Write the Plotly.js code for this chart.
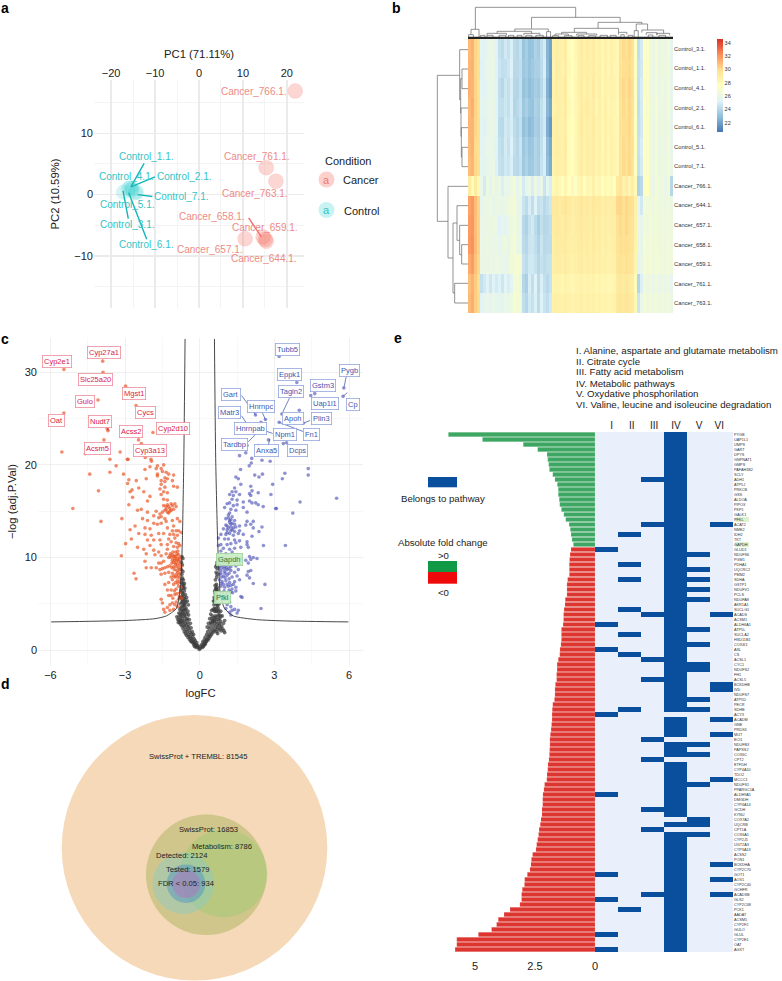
<!DOCTYPE html>
<html>
<head>
<meta charset="utf-8">
<script src="https://cdn.plot.ly/plotly-3.0.1.min.js"></script>
<style>
  html, body { margin: 0; padding: 0; background: #fff; }
  #chart { width: 782px; height: 981px; }
</style>
</head>
<body>
<div id="chart"></div>
<script>
// Panel a: PCA scores
const cancerNames = ['Cancer_766.1.', 'Cancer_761.1.', 'Cancer_763.1.', 'Cancer_658.1.', 'Cancer_659.1.', 'Cancer_657.1.', 'Cancer_644.1.'];
const cancerPC1 = [21.9, 15.3, 17.5, 14.6, 15.1, 10.5, 15.3];
const cancerPC2 = [16.9, 4.4, 2.2, -6.9, -7.3, -7.2, -7.6];
const controlNames = ['Control_1.1.', 'Control_2.1.', 'Control_3.1.', 'Control_4.1.', 'Control_5.1.', 'Control_6.1.', 'Control_7.1.'];
const controlPC1 = [-15.7, -15.3, -17.2, -16.1, -15.3, -14.5, -14.2];
const controlPC2 = [1.1, 1.0, 0.4, 1.0, 0.7, 0.3, 0.4];
// label connector lines [x0, y0, x1, y1] in PC units
const controlLinks = [[-15.5, 1.25, -12.5, 5.1], [-15.5, 1.25, -10, 2.9], [-14, 0, -10.6, -0.3], [-17.3, 0.6, -16.1, -3.9], [-16, 0.3, -11.9, -7.3]];
const cancerLinks = [[11.3, -3.8, 14.2, -6.9]];

// Panel b: expression heatmap, one row per sample
const heatRowNames = ['Control_3.1.', 'Control_1.1.', 'Control_4.1.', 'Control_2.1.', 'Control_6.1.', 'Control_5.1.', 'Control_7.1.',
  'Cancer_766.1.', 'Cancer_644.1.', 'Cancer_657.1.', 'Cancer_658.1.', 'Cancer_659.1.', 'Cancer_761.1.', 'Cancer_763.1.'];
const control3 = [31.0,31.2,30.2,29.8,25.5,25.3,25.8,26.0,25.9,25.3,24.4,24.2,24.8,24.5,25.1,24.2,24.0,24.5,23.2,23.6,23.0,23.2,23.8,23.5,24.3,24.9,22.6,22.0,28.5,28.9,28.7,28.5,29.0,27.9,27.5,28.1,28.6,29.0,28.5,28.9,28.6,29.0,28.3,28.7,28.1,28.6,28.2,28.5,28.3,28.1,29.6,30.0,29.8,30.1,29.7,27.5,24.3,24.9,27.6,27.1,26.4,26.1,26.7,26.0,26.3,26.1,26.6,25.7];
const control1 = [31.1,31.2,30.1,29.9,25.3,25.4,25.9,25.9,26.0,25.2,24.6,24.3,24.4,24.7,25.2,24.1,24.1,24.3,23.3,23.5,23.1,23.4,23.7,23.7,24.2,25.0,22.7,21.9,28.4,28.9,28.8,28.4,28.9,28.0,27.6,28.0,28.6,28.9,28.6,28.8,28.7,28.9,28.4,28.7,28.0,28.6,28.1,28.6,28.2,28.2,29.5,29.9,29.9,30.0,29.6,27.6,24.5,24.8,27.6,27.2,26.5,26.0,26.7,26.1,26.2,26.2,26.5,25.8];
const control4 = [31.2,31.1,30.2,29.7,25.4,25.3,25.7,26.1,25.8,25.4,24.3,24.0,24.7,24.4,25.0,24.0,23.9,24.4,23.1,23.4,22.9,23.2,23.6,23.4,24.1,24.8,22.5,21.8,28.5,29.0,28.7,28.6,29.1,27.8,27.5,28.2,28.7,29.0,28.4,28.9,28.5,29.1,28.3,28.8,28.2,28.5,28.3,28.5,28.4,28.1,29.7,30.1,29.8,30.2,29.8,27.4,24.4,25.0,27.7,27.1,26.3,26.1,26.6,25.9,26.4,26.0,26.7,25.7];
const control2 = [31.0,31.3,30.3,29.8,25.6,25.4,25.8,25.9,26.0,25.3,24.4,24.3,24.7,24.4,25.1,23.9,24.1,24.5,23.3,23.7,23.2,23.1,23.8,23.6,24.4,24.9,22.7,22.1,28.4,28.8,28.8,28.5,29.0,28.0,27.4,28.1,28.5,29.0,28.6,29.0,28.6,28.9,28.2,28.7,28.1,28.7,28.2,28.4,28.3,28.0,29.6,30.0,29.7,30.1,29.7,27.5,24.3,24.9,27.5,27.0,26.4,26.2,26.8,26.0,26.3,26.1,26.6,25.8];
const control6 = [31.1,31.1,30.2,29.9,25.5,25.2,25.8,26.0,25.9,25.4,24.2,24.1,24.8,24.6,25.0,24.2,23.9,24.4,23.0,23.4,22.8,23.0,23.7,23.5,24.3,24.8,22.4,21.7,28.6,28.9,28.7,28.5,28.9,27.9,27.6,28.0,28.6,29.1,28.5,28.8,28.6,29.0,28.4,28.6,28.1,28.6,28.3,28.5,28.2,28.2,29.6,29.9,29.9,30.1,29.6,27.5,24.4,24.8,27.6,27.2,26.4,26.1,26.7,26.1,26.3,26.1,26.5,25.7];
const control5 = [31.0,31.2,30.0,29.8,25.5,25.4,25.9,26.0,25.8,25.3,24.4,24.2,24.9,24.5,25.2,24.3,24.0,24.6,23.3,23.7,23.2,23.3,23.9,23.6,24.4,25.1,22.8,22.2,28.5,28.9,28.8,28.4,29.0,27.9,27.5,28.1,28.5,28.9,28.5,28.9,28.7,29.0,28.3,28.7,28.0,28.6,28.2,28.6,28.3,28.1,29.5,30.0,29.8,30.0,29.7,27.6,24.5,25.0,27.6,27.1,26.5,26.1,26.6,26.0,26.2,26.1,26.6,25.8];
const control7 = [30.9,31.1,30.1,29.8,25.6,25.4,25.8,26.0,26.0,25.2,24.5,24.3,24.8,24.6,25.1,24.2,24.1,24.5,23.4,23.8,23.3,23.4,23.9,23.7,24.5,25.0,22.9,22.3,28.4,28.8,28.7,28.5,28.9,27.9,27.6,28.1,28.6,29.0,28.4,28.9,28.6,28.9,28.3,28.7,28.1,28.6,28.1,28.5,28.3,28.1,29.6,30.0,29.8,30.1,29.6,27.5,24.4,24.9,27.6,27.1,26.4,26.2,26.7,26.0,26.3,26.2,26.6,25.9];
const cancer766 = [29.0,27.9,29.1,28.1,25.9,24.9,26.2,25.5,26.2,25.8,26.1,25.1,25.9,25.7,26.2,26.6,25.7,26.4,24.9,25.8,26.0,25.0,26.2,25.3,26.0,24.6,25.6,25.0,28.0,28.4,28.1,27.6,28.3,27.5,28.1,27.3,28.2,28.4,27.6,28.3,28.0,28.6,27.9,28.3,27.5,28.0,27.7,28.0,27.6,29.2,29.5,28.6,28.8,28.3,28.9,28.0,23.8,24.1,27.3,27.6,26.5,26.0,26.6,26.2,26.3,25.9,26.5,24.0];
const cancer644 = [31.6,31.9,30.9,30.2,25.7,25.9,26.1,26.3,25.8,26.1,26.0,25.8,26.1,26.2,26.5,26.7,25.9,25.7,24.6,24.2,25.0,24.3,25.3,24.4,24.6,24.1,24.4,24.7,29.2,29.3,29.0,29.2,29.5,29.1,28.8,29.0,29.1,29.4,29.0,29.2,28.9,29.3,29.0,29.1,28.7,29.0,28.8,28.9,28.9,30.1,30.2,29.8,30.1,29.9,29.7,28.6,25.6,24.8,26.6,26.4,26.5,26.3,26.6,26.2,26.4,26.1,26.4,26.1];
const cancer657 = [31.8,32.0,30.8,30.3,25.9,26.0,26.1,25.9,26.2,26.0,25.3,25.7,25.5,26.0,26.2,26.6,26.1,25.6,24.1,23.8,24.5,24.8,24.2,23.6,24.4,24.0,24.1,24.3,28.9,29.2,29.1,28.8,29.2,28.9,28.6,28.9,29.0,29.2,28.9,29.0,28.8,29.2,28.7,29.0,28.6,28.8,28.6,28.8,28.8,29.7,30.0,29.7,30.1,29.8,29.6,28.5,25.9,25.7,26.7,26.3,26.6,26.4,26.6,26.3,26.4,26.2,26.5,26.2];
const cancer658 = [31.9,32.1,30.9,30.3,26.0,25.8,26.2,26.1,25.9,26.1,25.7,25.9,26.2,25.8,26.4,26.8,26.0,25.8,24.2,24.0,24.6,24.7,24.3,23.8,24.6,24.1,24.2,24.2,28.7,29.1,29.0,28.9,29.1,28.8,28.7,28.8,29.0,29.1,28.8,29.0,28.7,29.1,28.7,28.9,28.5,28.8,28.6,28.7,28.7,29.6,29.9,29.7,29.9,29.7,29.5,28.4,26.1,25.8,26.8,26.4,26.6,26.5,26.7,26.3,26.5,26.3,26.6,26.3];
const cancer659 = [31.4,31.8,30.7,30.1,26.1,25.9,26.0,26.2,26.0,26.2,25.9,26.0,25.8,26.1,26.5,26.7,26.8,26.7,24.5,24.2,24.8,24.8,24.5,24.0,24.5,24.2,24.4,24.5,28.7,29.0,28.9,28.7,29.0,28.7,28.5,28.7,28.9,29.0,28.7,28.9,28.7,29.0,28.6,28.8,28.5,28.7,28.5,28.6,28.6,29.5,29.7,29.5,29.8,29.6,29.4,28.3,25.5,25.9,26.8,26.5,26.7,26.4,26.7,26.4,26.5,26.3,26.6,26.4];
const cancer761 = [30.8,31.2,30.5,29.9,24.4,24.8,25.3,24.7,25.3,24.9,25.2,24.7,25.4,25.0,25.5,26.7,26.6,26.3,24.0,23.7,25.0,24.3,25.3,24.1,25.1,24.4,24.1,24.5,28.3,28.5,28.4,28.2,28.5,28.3,28.1,28.3,28.4,28.6,28.3,28.5,28.3,28.5,28.2,28.4,28.1,28.3,28.1,28.2,28.3,29.1,29.3,29.1,29.3,29.1,28.9,27.9,23.9,25.1,26.5,26.1,26.3,26.0,26.4,25.9,26.2,25.9,26.3,25.7];
const cancer763 = [31.0,31.3,30.4,30.0,25.3,25.7,25.9,25.5,25.9,25.6,25.8,25.5,26.0,25.8,26.2,26.8,26.7,26.4,24.3,24.0,24.8,24.5,25.1,24.2,25.2,24.6,24.3,24.8,28.6,28.7,28.6,28.5,28.7,28.6,28.3,28.5,28.6,28.8,28.5,28.7,28.5,28.7,28.4,28.6,28.3,28.5,28.3,28.4,28.5,29.3,29.5,29.3,29.5,29.3,29.1,28.1,24.6,25.9,26.7,26.3,26.5,26.3,26.6,26.2,26.4,26.2,26.5,26.1];
const heatTicks = [22, 24, 26, 28, 30, 32, 34];

// dendrogram merges. top: [xLeft, xRight, height, heightLeft, heightRight]
const topMerges = [[227,527,22,88,52],[395,660,52,86,67],[594,725,67,85,72],[708,742,72,92,90],[214,238,88,104,112],
  [345,445,87,94,95],[292,395,94,100,100],[262,320,100,106,106],[372,420,100,106,106],[440,452,95,112,112],
  [523,655,85,97,97],[485,560,97,102,102],[465,505,102,107,107],[530,590,102,107,107],[655,680,97,104,104],
  [725,790,90,98,100],[738,770,98,105,105],[770,808,100,106,106],[702,714,92,112,112],
  [207,221,104,112,112],[242,256,106,112,112],[262,280,106,112,112],[298,318,106,112,112],[326,342,106,112,112],
  [352,366,106,112,112],[378,396,106,112,112],[408,430,106,112,112],[458,476,107,112,112],[494,516,107,112,112],
  [534,552,107,112,112],[566,586,107,112,112],[600,622,106,112,112],[630,648,106,112,112],[662,672,104,112,112],
  [684,698,106,112,112],[744,758,105,112,112],[776,796,106,112,112]];
const leafBand = [205, 818];
// left: [yTop, yBottom, x, xTop, xBottom]
const leftMerges = [[227,665,113,180,145],[150,300,180,205,183],[208,267,187,205,205],[237,340,183,187,184],[325,410,184,205,185],
  [384,472,185,205,187],[443,501,187,205,205],[560,775,145,205,160],[670,880,160,172,165],[618,722,172,205,180],
  [677,765,180,205,186],[735,793,186,205,205],[851,910,165,205,205]];

// Panel c: volcano, [logFC, -log adj.P.Val]
const downPts = [[-5.46,30.3],[-3.9,31.2],[-3.89,30.0],[-2.98,28.5],[-4.09,27.0],[-2.56,26.4],[-5.46,25.6],[-3.69,23.7],[-3.72,23.9],[-1.88,23.5],[-3.85,22.7],[-2.46,22.7],[-2.35,22.3],[-5.54,21.4],[-3.2,21.4],[-4.6,21.2],[-2.91,20.6],[-2.88,20.6],[-2.19,20.8],[-1.96,20.6],[-1.94,20.4],[-3.61,20.6],[-3.36,19.9],[-4.42,19.0],[-3.61,19.2],[-3.06,19.0],[-4.07,17.2],[-5.1,15.3],[-3.97,13.9],[-3.13,14.2],[-3.15,10.2],[-2.98,11.5],[-2.64,8.3],[-2.56,7.7],
  [-2.2,19.5],[-2.0,19.8],[-1.75,19.6],[-1.7,19.9],[-1.55,19.6],[-1.45,20.0],[-1.7,19.0],[-1.5,19.3],[-1.35,19.2],[-1.25,19.0],[-1.05,18.9],[-1.4,18.6],[-1.7,18.8],[-2.15,18.5],[-1.55,18.3],[-1.4,18.2],[-1.55,17.9],[-1.3,18.5],[-1.1,18.3],[-2.55,18.3],[-2.9,18.0],[-2.85,18.4],
  [-1.05,17.7],[-0.9,17.6],[-1.4,17.6],[-2.8,17.1],[-2.72,17.3],[-2.45,17.5],[-2.25,17.1],[-1.6,17.4],[-1.45,17.1],[-1.3,17.0],[-1.55,16.8],[-2.0,16.6],[-2.7,16.5],[-2.1,16.1],[-2.85,15.7],[-1.45,16.3],[-1.3,16.2],[-1.15,15.8],[-1.0,15.8],[-0.95,15.5],[-1.05,15.2],[-1.2,15.3],[-1.35,15.5],[-1.4,15.1],[-1.5,14.9],[-1.25,14.8],[-2.35,15.2],[-2.5,15.1],[-2.1,14.9],[-1.75,15.0],[-1.6,14.7],
  [-1.3,15.7],[-1.45,15.6],[-1.2,15.0],[-1.1,15.6],[-1.25,15.5],[-1.35,15.2],[-1.15,15.1],[-1.3,14.9],[-1.85,14.5],[-1.65,14.3],[-1.55,14.4],[-1.4,14.2],[-2.1,14.0],[-2.3,14.2],[-2.6,13.4],[-1.85,13.7],[-1.7,13.6],[-1.55,13.7],[-1.35,13.9],[-1.1,14.0],[-0.9,14.2],[-0.8,13.9],[-1.05,13.4],[-2.2,13.2],[-2.0,13.1],[-1.3,13.2],[-1.1,12.9],[-0.95,12.9],[-0.85,12.9],[-0.75,12.7],[-2.8,13.0],[-2.45,12.6],[-2.2,12.5],[-1.95,12.4],[-1.65,12.6],[-1.45,12.6],[-1.2,12.5],[-1.05,12.5],[-0.9,12.4],[-1.0,12.1],[-1.25,12.0],[-1.6,11.9],[-1.85,11.9],[-2.1,11.9],[-2.75,12.0],[-1.15,11.7],[-0.95,11.6],[-0.85,11.5],[-0.8,11.3],[-1.3,11.4],[-1.55,11.4],[-2.0,11.3],[-2.5,11.1],[-2.25,10.9],[-1.05,11.2],[-0.9,11.1],[-1.3,10.9],[-1.85,10.8],[-1.65,10.6],[-2.15,10.4],[-1.8,10.3],[-1.55,10.2],[-1.35,10.4],
  [-0.9,10.4],[-0.85,10.3],[-0.8,10.0],[-0.95,10.1],[-1.0,10.2],[-1.05,10.1],[-1.1,10.3],[-1.15,10.0],[-1.2,10.2],[-1.25,10.0],[-0.9,9.9],[-0.85,9.6],[-0.8,9.3],[-0.95,9.4],[-1.0,9.7],[-1.05,9.5],[-1.1,9.7],[-0.75,9.0],[-0.85,8.9],[-0.95,9.0],[-1.05,9.0],[-1.2,9.1],[-1.3,9.0],[-1.4,8.9],[-1.5,8.8],[-1.6,8.7],[-1.75,8.9],[-1.95,8.9],[-2.15,8.9],[-2.2,9.6],[-1.55,8.2],[-1.4,8.3],[-1.25,8.4],[-1.1,8.3],[-0.95,8.2],[-0.85,8.1],[-0.78,8.3],[-1.0,7.9],[-1.1,7.6],[-0.9,7.5],[-0.8,7.4],[-1.25,7.3],[-1.4,7.1],[-1.05,7.1],[-0.85,6.9],[-0.75,6.8],[-0.95,6.6],[-1.15,6.5],[-1.3,6.5],[-0.8,6.2],[-1.0,6.0],[-1.15,5.9],[-1.25,5.9],[-0.85,5.5],[-0.72,5.6],[-0.95,5.2],[-1.1,5.1],[-1.55,5.5],[-1.5,5.1],[-1.2,4.9],[-1.3,4.6],[-1.45,4.4],[-1.4,4.1],[-1.2,4.3],[-1.05,4.4],[-0.9,4.7],[-1.0,4.9],
  [-0.88,10.7],[-0.97,10.6],[-1.08,10.6],[-1.18,10.4],[-0.82,9.8],[-0.92,9.7],[-1.02,9.9],[-1.12,9.4],[-0.88,9.2],[-0.98,9.3],[-0.82,8.7],[-0.92,8.6],[-1.02,8.7],[-1.12,8.9],[-0.88,8.4],[-0.92,7.9],[-0.82,7.8],[-1.05,8.0],[-0.97,7.3],[-1.15,7.9],[-0.88,7.2],[-1.02,6.4],[-0.92,6.1],[-0.82,5.8],[-1.08,5.6],[-1.45,9.6],[-1.55,9.4],[-1.65,9.4]];
const upPts = [[3.19,31.7],[3.9,28.9],[5.79,28.3],[5.76,27.4],[4.62,27.7],[4.46,27.5],[4.0,25.9],[3.19,24.6],[3.3,25.5],[2.24,25.4],[2.64,24.9],[2.46,24.6],[4.16,24.5],[2.76,22.7],[3.49,22.4],[3.36,22.3],[1.9,22.1],[2.35,22.1],[1.85,21.3],[1.6,21.0],[2.09,20.7],[2.07,20.2],[2.5,20.5],[2.83,20.4],[2.9,21.2],[1.99,19.9],[1.64,19.5],[4.36,19.6],[4.36,18.9],[3.42,19.1],[3.32,18.5],[2.52,19.0],[2.21,18.9],[2.38,18.7],[2.93,17.9],[2.86,16.8],[4.03,16.0],[5.5,16.4],[3.05,15.3],[3.08,15.3],[3.74,14.8],[3.44,11.3],[2.56,11.3],[2.62,7.1],[2.46,4.5],
  [1.45,18.7],[1.55,18.5],[1.65,17.9],[2.05,17.7],[2.1,17.2],[1.4,17.5],[1.3,17.1],[1.45,17.1],[2.0,16.9],[2.35,17.0],[1.2,16.8],[1.35,16.7],[1.6,16.8],[2.05,16.7],[1.3,16.3],[1.5,16.2],[1.75,16.0],[2.0,16.1],[2.1,15.9],[2.25,15.9],[2.35,15.7],[1.2,15.9],[1.1,15.8],[1.35,15.6],[1.5,15.7],[1.75,15.4],[1.0,15.4],[2.55,15.5],[1.25,15.2],[1.45,15.1],[1.9,14.9],[1.2,14.8],[1.15,14.6],[1.3,14.4],[1.05,14.2],[1.25,14.1],[1.4,14.0],[1.2,13.8],[1.4,13.6],[1.6,13.4],[1.9,13.9],[2.15,13.9],[1.05,13.5],[1.1,13.4],[1.25,13.3],[1.35,13.2],[1.45,13.3],[1.85,13.5],[2.05,13.6],[2.15,13.2],[0.95,13.1],[1.1,13.0],[1.25,12.9],[1.4,12.8],[1.6,12.9],[2.5,13.3],[2.38,12.8],[0.85,12.5],[1.05,12.5],[1.2,12.6],[1.35,12.4],[1.55,12.6],[1.75,12.5],[2.1,12.3],[0.75,12.1],[1.0,12.0],[1.15,12.0],[1.4,11.9],[1.6,11.8],[1.9,11.7],[0.85,11.4],[1.1,11.4],[1.25,11.5],[1.45,11.6],[1.9,11.4],[1.95,11.1],[0.75,11.3],[0.95,11.0],[1.2,10.9],[1.4,11.0],[1.65,11.1],[2.0,10.1],[2.15,10.0],[0.85,10.7],[1.05,10.4],[1.3,10.6],
  [1.15,14.3],[1.2,14.0],[1.3,13.7],[1.25,13.6],[1.15,13.2],[1.3,13.0],[1.1,12.7],
  [0.75,9.9],[0.85,9.7],[0.95,9.9],[1.05,9.6],[1.15,9.8],[1.3,9.9],[1.45,9.7],[1.65,9.9],[1.85,9.7],[2.05,9.8],[2.3,9.9],[1.95,9.4],[0.8,9.3],[0.9,9.2],[1.0,9.0],[1.15,9.2],[1.25,9.0],[1.45,9.1],[1.6,9.3],[0.75,8.8],[0.85,8.6],[1.0,8.5],[1.1,8.7],[1.25,8.6],[1.4,8.4],[1.55,8.7],[1.95,8.5],[2.05,8.6],[0.8,8.2],[0.95,8.0],[1.1,8.1],[1.3,7.9],[1.5,8.0],[1.9,8.1],[2.0,7.8],[0.8,7.6],[0.9,7.4],[1.05,7.5],[1.2,7.3],[1.4,7.4],[1.6,7.6],[2.15,7.2],[0.85,6.9],[1.0,6.8],[1.15,6.9],[1.3,6.6],[1.45,6.8],[0.9,6.2],[1.1,6.1],[1.25,6.3],[1.45,6.4],[1.65,5.8],[1.7,5.7],[1.0,5.5],[1.2,5.2],[1.1,4.9],[1.25,4.7],[1.05,4.5],[1.4,4.4],[1.55,4.3],[1.5,4.0],[1.2,4.1],[1.25,3.8],[1.3,4.3],
  [0.82,9.6],[0.92,9.5],[1.02,9.4],[1.12,9.5],[0.78,9.0],[0.88,8.9],[0.98,8.8],[1.08,8.9],[1.18,8.8],[0.85,8.3],[1.02,8.3],[1.18,8.3],[0.88,7.9],[1.02,7.8],[1.18,7.7],[0.86,7.2],[0.95,7.1],[1.1,7.1],[1.25,7.0],[1.35,7.1],[0.98,6.4],[1.18,6.5],[1.32,6.2],[1.02,5.9],[1.12,5.6]];
const greyPts = [[-0.02,0.1],[-0.05,0.3],[-0.08,0.5],[-0.1,0.4],[-0.12,0.8],[-0.15,0.6],[-0.18,1.0],[-0.2,0.7],[-0.22,1.2],[-0.25,0.9],[-0.28,1.4],[-0.3,1.1],[-0.32,1.7],[-0.35,1.3],[-0.38,1.9],[-0.4,1.5],[-0.42,2.2],[-0.45,1.7],[-0.48,2.4],[-0.5,2.0],[-0.52,2.7],[-0.55,2.2],[-0.58,2.9],[-0.6,2.5],[-0.62,3.2],[-0.65,2.7],[-0.68,3.0],[-0.7,3.4],[-0.72,3.1],[-0.75,3.6],[-0.78,3.3],[-0.8,3.0],[-0.84,3.6],[-0.88,3.3],[-0.92,3.6],[-0.25,1.7],[-0.3,2.0],[-0.35,2.4],[-0.38,2.9],[-0.42,3.3],[-0.45,3.8],[-0.48,4.2],[-0.5,3.4],[-0.52,3.9],[-0.55,4.5],[-0.58,4.1],[-0.6,4.8],[-0.62,3.7],[-0.64,4.4],[-0.66,5.0],[-0.68,4.3],[-0.7,4.7],[-0.72,5.2],[-0.74,4.2],[-0.76,4.6],[-0.78,5.0],[-0.8,4.4],[-0.46,4.9],[-0.5,5.3],[-0.53,5.7],[-0.56,5.2],[-0.58,6.0],[-0.6,5.5],[-0.62,6.4],[-0.64,5.8],[-0.66,6.7],[-0.68,6.1],[-0.7,6.9],[-0.72,5.8],[-0.74,7.3],[-0.76,6.4],[-0.62,7.2],[-0.66,7.6],[-0.7,7.8],[-0.72,8.2],[-0.68,8.5],[-0.74,8.7],[-0.7,9.2],[-0.74,9.5],[-0.68,9.9],[-0.72,10.1],
  [-0.14,0.3],[-0.17,0.5],[-0.21,0.4],[-0.24,0.6],[-0.27,0.8],[-0.33,0.9],[-0.37,1.0],[-0.42,1.2],[-0.47,1.4],[-0.53,1.6],[-0.57,1.8],[-0.62,2.0],[-0.67,2.3],[-0.72,2.6],[-0.77,2.8],[-0.82,3.2],[-0.86,3.0],[-0.44,2.6],[-0.49,3.0],[-0.54,3.3],[-0.59,3.6],[-0.64,3.9],[-0.69,4.0],[-0.74,3.8],[-0.79,3.9],[-0.84,4.0],[-0.59,4.4],[-0.64,4.8],[-0.69,5.3],[-0.74,5.6],[-0.78,5.7],[-0.6,5.1],[-0.65,5.5],[-0.7,6.2],[-0.74,6.6],[-0.6,6.7],[-0.65,7.0],[-0.72,7.6],[-0.68,7.2],
  [0.02,0.2],[0.05,0.4],[0.08,0.6],[0.1,0.3],[0.12,0.9],[0.15,0.5],[0.18,1.1],[0.2,0.7],[0.22,1.4],[0.25,1.0],[0.28,1.7],[0.3,1.2],[0.32,2.0],[0.35,1.5],[0.38,2.3],[0.4,1.7],[0.42,2.6],[0.45,2.0],[0.48,2.9],[0.5,2.3],[0.52,3.2],[0.55,2.6],[0.58,3.5],[0.6,2.9],[0.62,3.7],[0.65,2.5],[0.68,3.1],[0.7,2.8],[0.72,2.4],[0.75,3.3],[0.78,2.7],[0.8,2.9],[0.84,3.1],[0.88,2.6],[0.95,2.9],[1.0,3.2],[0.97,2.1],[1.0,1.9],[0.3,2.5],[0.35,2.9],[0.4,3.4],[0.44,3.9],[0.48,4.3],[0.5,3.7],[0.54,4.4],[0.57,4.9],[0.6,4.2],[0.63,5.1],[0.66,4.5],[0.7,4.2],[0.72,4.8],[0.76,4.2],[0.8,3.8],[0.84,4.2],[0.9,3.7],[0.55,5.3],[0.58,5.7],[0.62,6.1],[0.65,5.5],[0.68,6.3],[0.7,5.5],[0.74,5.9],[0.78,5.0],[0.64,6.7],[0.67,7.1],[0.7,6.8],[0.63,7.6],[0.68,7.9],[0.7,8.2],[0.66,8.4],[0.7,8.8],[0.68,9.2],[0.7,9.5],[0.64,9.0],
  [0.14,0.4],[0.17,0.7],[0.21,0.6],[0.24,0.8],[0.27,1.0],[0.33,1.1],[0.37,1.3],[0.42,1.5],[0.47,1.7],[0.53,1.9],[0.57,2.1],[0.62,2.2],[0.67,2.0],[0.72,1.8],[0.77,2.2],[0.82,2.4],[0.86,2.1],[0.92,2.3],[0.44,3.0],[0.49,3.4],[0.54,3.1],[0.59,3.2],[0.64,3.4],[0.69,3.6],[0.74,3.8],[0.79,3.4],[0.84,3.6],[0.59,4.5],[0.64,4.2],[0.69,4.9],[0.74,4.5],[0.6,5.4],[0.66,5.9],[0.72,6.5],[0.6,6.4],[0.66,6.6],[0.62,7.0]];
// threshold curves, same units
const curveLeftX = [-5.97, -3.0, -1.8, -1.34, -0.94, -0.8, -0.74, -0.7, -0.64, -0.59];
const curveLeftY = [3.05, 3.2, 3.4, 3.7, 4.5, 6.3, 8.5, 11.7, 20.7, 33.6];
const curveRightX = [0.59, 0.64, 0.72, 0.78, 0.83, 1.0, 1.34, 2.28, 3.5, 5.97];
const curveRightY = [33.6, 20.7, 11.7, 8.0, 5.9, 4.5, 3.7, 3.3, 3.15, 3.05];
// gene label leader lines [x0, y0, x1, y1]
const downLinks = [[-3.76, 24.2, -3.65, 23.7]];
const upLinks = [[1.68,27.5,2.24,25.4],[2.52,25.6,2.64,24.9],[1.68,25.3,1.88,24.5],[3.62,27.3,3.3,25.5],[4.16,23.6,3.19,24.6],[4.43,24.8,4.16,24.5],[2.93,23.4,2.6,23.7],[1.95,22.5,2.28,23.4],[2.75,22.1,2.82,22.8],[5.9,29.7,5.79,28.3],[5.93,27.8,5.76,27.4]];

// Panel d: nested sets
const vennNames = ['SwissProt + TREMBL: 81545', 'SwissProt: 16853', 'Metabolism: 8786', 'Detected: 2124', 'Tested: 1579', 'FDR < 0.05: 934'];
const vennX = [194.5, 206.3, 223.7, 183.3, 186, 186.3];
const vennY = [847.8, 874.7, 873.7, 883.3, 883.7, 884];
const vennRadius = [132.8, 60.3, 43.7, 30.7, 19.3, 14];

// Panel e: fold change bars and pathway membership
const geneNames = ['PYGB','UAP1L1','UMPS','GART','DPYS','GNPNAT1','GMPS','PAFAH1B2','SCLY','ADH1','ATP5J','PRKCB','GSS','ALDOA','PIPOX','PKP1','GALK1','PFKL','ACAT2','NME2','IDH2','TKT','GAPDH',
  'GLUD1','NDUFS6','PGM1','PDHA1','UQCRC2','PMM2','SDHA','GSTP1','NDUFV1','PCLS','NDUFA8','AKR1A1','SUCLG1','ACADS','ACSM1','ALDH6A1','ATP5L','SUCLA2','HSD11B1','COX4I1','ASL','CS','ACSL1','CYC1','NDUFS2','FH1','ACSL5','BCKDHB','IVD','NDUFS7','ATP5D','PECR','SDHB','ACY3','ACADM','GNE','PRDX6','MUT','ECI1','NDUFB3','PAPSS2','COX6C','CPT2','ETFDH','CYP4A10','TDO2','MCCC1','NDUFS1','PPARGC1A','ALDH9A1','DMGDH','CYP4A14','GCDH','KYNU','COX7A2','UQCRB','CPT1A','COX6A1','CYP2J5','UGT2A3','CYP3A13','ACSS2','PON1','BCKDHA','CYP2C70','GOT1','AOX1','CYP2C40','GCHFR','ACADSB','GLS2','CYP2C68','PCK1','AADAT','ACSM5','CYP2F2','GULO','GLUL','CYP2E1','OAT','AGXT'];
const upBars = [6.11,4.69,2.99,2.39,2.0,1.97,1.93,1.90,1.76,1.67,1.57,1.53,1.53,1.49,1.47,1.40,1.30,1.22,1.08,1.03,1.0,0.96,0.90];
const downBars = [1.0,1.04,1.06,1.07,1.07,1.07,1.14,1.17,1.17,1.17,1.24,1.25,1.29,1.31,1.31,
  1.33,1.40,1.40,1.40,1.42,1.46,1.47,1.53,1.58,1.58,1.60,1.60,1.65,1.67,1.67,1.69,1.76,1.78,1.79,1.79,1.81,1.83,1.86,1.88,1.88,1.89,1.90,1.92,1.96,1.97,2.0,2.01,2.10,2.13,2.17,2.18,
  2.18,2.21,2.21,2.25,2.28,2.33,2.35,2.39,2.43,2.46,2.60,2.65,2.67,2.71,2.82,2.93,2.94,3.03,3.06,3.06,3.13,3.54,3.79,4.03,4.10,4.31,4.86,5.76,5.76,5.83];
const pathwayNames = ['I', 'II', 'III', 'IV', 'V', 'VI'];
// row numbers (from the top) marked in each pathway
const pathwayI = [23, 38, 43, 56, 72, 88, 93, 100, 103];
const pathwayII = [20, 26, 29, 35, 40, 44, 55, 95];
const pathwayIII = [9, 18, 36, 45, 49, 61, 65, 75, 79, 92];
const missingFromIV = [56, 61, 65, 77, 79];
const pathwayV = [24, 27, 29, 31, 33, 39, 42, 46, 47, 53, 55, 62, 64, 70, 77, 78, 80];
const pathwayVI = [18, 36, 50, 51, 57, 60, 69, 86, 89, 92];
const pathwayLines = ['I. Alanine, aspartate and glutamate metabolism', 'II. Citrate cycle', 'III. Fatty acid metabolism', 'IV. Metabolic pathways', 'V. Oxydative phosphorilation', 'VI. Valine, leucine and isoleucine degradation'];

// ---------- helpers ----------
const W = 782, H = 981;
const FONT = 'Liberation Sans, Arial, sans-serif';
const domX = (a, b) => [a / W, b / W];
const domY = (top, bottom) => [1 - bottom / H, 1 - top / H];

const annotations = [];
function label(text, px, py, size, color, extra) {
    annotations.push(Object.assign({
        text: text, xref: 'paper', yref: 'paper', x: px / W, y: 1 - py / H,
        showarrow: false, xanchor: 'center', yanchor: 'middle',
        font: { family: FONT, size: size, color: color }
    }, extra || {}));
}

function linkTrace(links, color, width, xa, ya) {
    const x = [], y = [];
    links.forEach(l => { x.push(l[0], l[2], null); y.push(l[1], l[3], null); });
    return { type: 'scatter', mode: 'lines', x: x, y: y, xaxis: xa, yaxis: ya, hoverinfo: 'skip', line: { color: color, width: width } };
}

const blankAxis = { visible: false, showgrid: false, zeroline: false, fixedrange: true };
const traces = [];

// ---------- panel a ----------
traces.push({ type: 'scatter', mode: 'markers', x: controlPC1, y: controlPC2, text: controlNames, xaxis: 'x', yaxis: 'y',
    marker: { size: 15, color: 'rgba(62,208,208,0.22)', line: { width: 0 } } });
traces.push({ type: 'scatter', mode: 'markers', x: cancerPC1, y: cancerPC2, text: cancerNames, xaxis: 'x', yaxis: 'y',
    marker: { size: 15, color: 'rgba(245,120,105,0.3)', line: { color: 'rgba(245,120,105,0.12)', width: 1 } } });
traces.push(linkTrace(controlLinks, '#14b5b8', 1.4, 'x', 'y'));
traces.push(linkTrace(cancerLinks, '#f0706a', 1.4, 'x', 'y'));

// label centre positions on the page
[['Control_1.1.',145.5,156.5],['Control_2.1.',184,176.5],['Control_4.1.',126,176],['Control_7.1.',181,196.5],['Control_5.1.',127,204.5],['Control_3.1.',127,224.5],['Control_6.1.',146,245]]
    .forEach(d => label(d[0], d[1], d[2], 10, '#35c4c6'));
[['Cancer_766.1.',254,91.5],['Cancer_761.1.',257,156.5],['Cancer_763.1.',255,193],['Cancer_658.1.',212,216.5],['Cancer_659.1.',265,227.5],['Cancer_657.1.',210,249],['Cancer_644.1.',264,258]]
    .forEach(d => label(d[0], d[1], d[2], 10, '#ee8a84'));

label('Condition', 347.5, 161, 11, '#222');
label('Cancer', 361, 180, 11, '#222');
label('Control', 361, 210.5, 11, '#222');
label('a', 326.5, 179.5, 11, '#f0796f');
label('a', 326.5, 210, 11, '#2cc3c5');

// ---------- panel b ----------
const heatZ = [control3, control1, control4, control2, control6, control5, control7, cancer766, cancer644, cancer657, cancer658, cancer659, cancer761, cancer763];
traces.push({
    type: 'heatmap', z: heatZ, y: heatRowNames, xaxis: 'x2', yaxis: 'y2', zmin: 20.6, zmax: 34.55, zsmooth: false,
    colorscale: [[0, '#4575B4'], [1 / 6, '#91BFDB'], [2 / 6, '#E0F3F8'], [3 / 6, '#FFFFBF'], [4 / 6, '#FEE090'], [5 / 6, '#FC8D59'], [1, '#D73027']],
    colorbar: {
        x: 717 / W, xanchor: 'left', y: 1 - 132 / H, yanchor: 'bottom', len: 93, lenmode: 'pixels', thickness: 6, thicknessmode: 'pixels',
        tickvals: heatTicks, ticks: '', tickfont: { family: FONT, size: 5.5, color: '#333' }, outlinewidth: 0, xpad: 0, ypad: 0
    }
});

function topDendro(merges) {
    const segs = [];
    merges.forEach(m => {
        segs.push([m[0], m[2], m[1], m[2]], [m[0], m[2], m[0], m[3]], [m[1], m[2], m[1], m[4]]);
    });
    return segs;
}
function leftDendro(merges) {
    const segs = [];
    merges.forEach(m => {
        segs.push([m[2], m[0], m[2], m[1]], [m[2], m[0], m[3], m[0]], [m[2], m[1], m[4], m[1]]);
    });
    return segs;
}
traces.push(linkTrace(topDendro(topMerges), '#666', 0.7, 'x7', 'y7'));
traces.push(linkTrace([[leafBand[0], 114, leafBand[1], 114]], '#222', 2.4, 'x7', 'y7'));
traces.push(linkTrace(leftDendro(leftMerges), '#666', 0.7, 'x8', 'y8'));

// ---------- panel c ----------
const px = p => p[0], py = p => p[1];
traces.push({ type: 'scatter', mode: 'markers', x: greyPts.map(px), y: greyPts.map(py), xaxis: 'x3', yaxis: 'y3', hoverinfo: 'skip',
    marker: { size: 3.8, color: 'rgba(60,60,60,0.72)' } });
traces.push({ type: 'scatter', mode: 'markers', x: downPts.map(px), y: downPts.map(py), xaxis: 'x3', yaxis: 'y3', hoverinfo: 'skip',
    marker: { size: 3.6, color: 'rgba(232,80,30,0.66)' } });
traces.push({ type: 'scatter', mode: 'markers', x: upPts.map(px), y: upPts.map(py), xaxis: 'x3', yaxis: 'y3', hoverinfo: 'skip',
    marker: { size: 3.6, color: 'rgba(85,90,185,0.66)' } });
traces.push({ type: 'scatter', mode: 'lines', x: curveLeftX, y: curveLeftY, xaxis: 'x3', yaxis: 'y3', hoverinfo: 'skip', line: { color: '#333', width: 0.9, shape: 'spline', smoothing: 0.6 } });
traces.push({ type: 'scatter', mode: 'lines', x: curveRightX, y: curveRightY, xaxis: 'x3', yaxis: 'y3', hoverinfo: 'skip', line: { color: '#333', width: 0.9, shape: 'spline', smoothing: 0.6 } });
traces.push(linkTrace(downLinks, '#d8204a', 0.8, 'x3', 'y3'));
traces.push(linkTrace(upLinks, '#4a62b8', 0.8, 'x3', 'y3'));

function geneBox(name, x, y, color, border, bg) {
    label(name, x, y, 7.5, color, { bgcolor: bg, bordercolor: border, borderwidth: 0.8, borderpad: 1.2 });
}
[['Cyp2e1',56.7,361],['Cyp27a1',104.3,352.7],['Slc25a20',95.7,379.7],['Mgst1',134,394],['Gulo',85,401.7],['Oat',56,420.3],['Nudt7',100,421],['Cycs',145,412.7],['Acss2',130.7,431.7],['Cyp2d10',173.3,428.7],['Acsm5',97,448],['Cyp3a13',149.7,451]]
    .forEach(d => geneBox(d[0], d[1], d[2], '#d8204a', '#ee8e9c', 'rgba(255,255,255,0.9)'));
[['Tubb5',287.3,349.3],['Pygb',349,370],['Eppk1',289,374.3],['Gstm3',323.3,385.3],['Tagln2',291,391.3],['Uap1l1',325.3,403],['Cp',353,404.3],['Gart',231.3,394.3],['Hnrnpc',261.3,406.7],['Matr3',229,412.3],['Apoh',292.7,418],['Plin3',321,418.7],['Hnrnpab',250,428.3],['Npm1',285,434.3],['Fn1',311.7,434.3],['Tardbp',234.3,444.3],['Anxa5',266.7,450.3],['Dcps',297.3,450.3]]
    .forEach(d => geneBox(d[0], d[1], d[2], '#3f57b0', '#93a5dc', 'rgba(255,255,255,0.9)'));
[['Gapdh',229.7,559.3],['Pfkl',222.7,597]]
    .forEach(d => geneBox(d[0], d[1], d[2], '#2a7d3c', '#9ad49c', 'rgba(200,235,195,0.92)'));

// ---------- panel d ----------
const vennFill = ['rgb(245,217,184)', 'rgba(171,179,96,0.5)', 'rgba(160,204,114,0.5)', 'rgba(133,203,202,0.42)', 'rgba(80,150,195,0.5)', 'rgba(195,105,190,0.42)'];
traces.push({ type: 'scatter', mode: 'markers', x: vennX, y: vennY, text: vennNames, xaxis: 'x6', yaxis: 'y6', cliponaxis: false,
    marker: { size: vennRadius.map(r => r * 2), sizemode: 'diameter', color: vennFill, line: { width: 0 }, opacity: 1 } });
[[0,197.7,756],[1,208.7,829.3],[2,222,846],[3,182,855.7],[4,187.7,869.7],[5,186.3,883.3]]
    .forEach(d => label(vennNames[d[0]], d[1], d[2], 7.6, '#222'));

// ---------- panel e ----------
traces.push({ type: 'bar', orientation: 'h', x: upBars, y: geneNames.slice(0, upBars.length), xaxis: 'x4', yaxis: 'y4',
    marker: { color: '#3da662', line: { color: 'rgba(255,255,255,0.35)', width: 0.4 } } });
traces.push({ type: 'bar', orientation: 'h', x: downBars, y: geneNames.slice(upBars.length), xaxis: 'x4', yaxis: 'y4',
    marker: { color: '#dd352f', line: { color: 'rgba(255,255,255,0.35)', width: 0.4 } } });

// membership table for the heatmap, built from the row lists
const membership = geneNames.map((g, k) => [
    pathwayI.includes(k) ? 1 : 0,
    pathwayII.includes(k) ? 1 : 0,
    pathwayIII.includes(k) ? 1 : 0,
    missingFromIV.includes(k) ? 0 : 1,
    pathwayV.includes(k) ? 1 : 0,
    pathwayVI.includes(k) ? 1 : 0
]);
traces.push({ type: 'heatmap', z: membership, y: geneNames, x: [0, 1, 2, 3, 4, 5], xaxis: 'x5', yaxis: 'y5', zmin: 0, zmax: 1, showscale: false,
    colorscale: [[0, '#eaf0fb'], [1, '#0a4f9e']] });

pathwayLines.forEach((t, i) => label(t, 573.5, [350, 361, 371.5, 383, 394, 405][i], 9.7, '#222', { xanchor: 'left' }));
label('Belongs to pathway', 443, 498, 9.6, '#222');
label('Absolute fold change', 443, 542.7, 9.6, '#222');
label('>0', 443, 555, 9.6, '#222');
label('<0', 443, 592, 9.6, '#222');

const pageRect = (x0, y0, x1, y1, color) => ({ type: 'rect', xref: 'paper', yref: 'paper', x0: x0 / W, x1: x1 / W, y0: 1 - y1 / H, y1: 1 - y0 / H, fillcolor: color, line: { width: 0 } });
const pageDot = (cx, cy, r, color) => ({ type: 'circle', xref: 'paper', yref: 'paper', x0: (cx - r) / W, x1: (cx + r) / W, y0: 1 - (cy + r) / H, y1: 1 - (cy - r) / H, fillcolor: color, line: { width: 0 } });
const labelBg = (k) => ({ type: 'rect', xref: 'paper', yref: 'y5', x0: 735 / W, x1: 749 / W, y0: k - 0.5, y1: k + 0.5, fillcolor: '#dff2cf', line: { width: 0 }, layer: 'below' });

const shapes = [
    pageDot(326.5, 179.5, 8, 'rgba(245,120,105,0.35)'),
    pageDot(326.5, 210, 8, 'rgba(62,208,208,0.28)'),
    pageRect(428, 477, 457, 487.3, '#0a4f9e'),
    pageRect(428, 561, 457, 572, '#109a45'),
    pageRect(428, 572, 457, 583.7, '#ee0a0a'),
    labelBg(geneNames.indexOf('PFKL')),
    labelBg(geneNames.indexOf('GAPDH'))
];

// panel letters
[['a', 5, 8], ['b', 396.5, 8], ['c', 5, 339], ['d', 5, 684], ['e', 398, 338]].forEach(d => {
    label('<b>' + d[0] + '</b>', d[1], d[2], 14, '#000');
});

// ---------- layout ----------
const gridMajor = '#ebebeb', gridMinor = '#f3f3f3';
const tick11 = { family: FONT, size: 11, color: '#222' };

const layout = {
    width: W, height: H, margin: { l: 0, r: 0, t: 0, b: 0 }, paper_bgcolor: '#fff', plot_bgcolor: 'rgba(0,0,0,0)',
    showlegend: false, barmode: 'overlay', bargap: 0.14, hovermode: false,
    font: { family: FONT, color: '#222' },
    annotations: annotations, shapes: shapes,

    xaxis: { domain: domX(94, 304), range: [-23.9, 23.9], side: 'top', anchor: 'y', tickvals: [-20, -10, 0, 10, 20], ticks: '', tickfont: tick11,
        title: { text: 'PC1 (71.11%)', font: { family: FONT, size: 11.3, color: '#222' }, standoff: 5 },
        showgrid: true, gridcolor: gridMajor, gridwidth: 1.3, zeroline: false, showline: false,
        minor: { tickvals: [-15, -5, 5, 15], showgrid: true, gridcolor: gridMinor, gridwidth: 0.9 } },
    yaxis: { domain: domY(80, 308), range: [-18.5, 18.7], anchor: 'x', tickvals: [-10, 0, 10], ticks: '', tickfont: tick11,
        title: { text: 'PC2 (10.59%)', font: { family: FONT, size: 11.3, color: '#222' }, standoff: 12 },
        showgrid: true, gridcolor: gridMajor, gridwidth: 1.3, zeroline: false, showline: false,
        minor: { tickvals: [-15, -5, 5, 15], showgrid: true, gridcolor: gridMinor, gridwidth: 0.9 } },

    xaxis2: Object.assign({}, blankAxis, { domain: domX(468, 673), anchor: 'y2' }),
    yaxis2: { domain: domY(39, 313), anchor: 'x2', side: 'right', autorange: 'reversed', type: 'category', ticks: '', showgrid: false, zeroline: false,
        tickmode: 'array', tickvals: heatRowNames, ticktext: heatRowNames, tickfont: { family: FONT, size: 5.8, color: '#333' } },

    xaxis7: Object.assign({}, blankAxis, { domain: domX(468, 673), anchor: 'y7', range: [205, 818] }),
    yaxis7: Object.assign({}, blankAxis, { domain: domY(5, 39), anchor: 'x7', range: [117, 15] }),
    xaxis8: Object.assign({}, blankAxis, { domain: domX(435, 468), anchor: 'y8', range: [106, 205] }),
    yaxis8: Object.assign({}, blankAxis, { domain: domY(39, 313), anchor: 'x8', range: [940, 118] }),

    xaxis3: { domain: domX(38, 363), range: [-6.5, 6.56], anchor: 'y3', tickvals: [-6, -3, 0, 3, 6], ticks: '', tickfont: tick11,
        title: { text: 'logFC', font: { family: FONT, size: 11.3, color: '#222' }, standoff: 9 }, ticklabelstandoff: 2,
        showgrid: true, gridcolor: '#ececec', gridwidth: 0.8, zeroline: false,
        minor: { tickvals: [-4.5, -1.5, 1.5, 4.5], showgrid: true, gridcolor: gridMinor, gridwidth: 0.6 } },
    yaxis3: { domain: domY(338, 665), range: [-1.6, 33.7], anchor: 'x3', tickvals: [0, 10, 20, 30], ticks: '', tickfont: tick11,
        title: { text: '\u2212log (adj.P.Val)', font: { family: FONT, size: 11.3, color: '#222' }, standoff: 5 },
        showgrid: true, gridcolor: '#ececec', gridwidth: 0.8, zeroline: false,
        minor: { tickvals: [5, 15, 25], showgrid: true, gridcolor: gridMinor, gridwidth: 0.6 } },

    xaxis4: { domain: domX(440, 595), range: [155 / 24, 0], anchor: 'y4', tickvals: [5, 2.5, 0], ticktext: ['5', '2.5', '0'], ticks: '', tickfont: tick11,
        ticklabelstandoff: 6, showgrid: false, zeroline: false, showline: false },
    yaxis4: { domain: domY(432, 952), anchor: 'x4', type: 'category', categoryorder: 'array', categoryarray: geneNames, autorange: 'reversed',
        showticklabels: false, ticks: '', showgrid: false, zeroline: false },

    xaxis5: { domain: domX(595, 733), range: [-0.5, 5.5], anchor: 'y5', side: 'top', ticks: '', showgrid: false, zeroline: false,
        tickmode: 'array', tickvals: [0.22, 1.1, 2.07, 3.02, 4.02, 4.9], ticktext: pathwayNames, tickfont: { family: FONT, size: 10, color: '#222' } },
    yaxis5: { domain: domY(432, 952), anchor: 'x5', side: 'right', type: 'category', categoryorder: 'array', categoryarray: geneNames, autorange: 'reversed',
        ticks: '', showgrid: false, zeroline: false, tickmode: 'array', tickvals: geneNames, ticktext: geneNames, tickfont: { family: FONT, size: 3.8, color: '#333' } },

    xaxis6: Object.assign({}, blankAxis, { domain: domX(0, 382), anchor: 'y6', range: [0, 382] }),
    yaxis6: Object.assign({}, blankAxis, { domain: domY(700, 981), anchor: 'x6', range: [981, 700] })
};

document.addEventListener('DOMContentLoaded', () => {
    Plotly.newPlot('chart', traces, layout, { staticPlot: true, displayModeBar: false });
});
</script>
</body>
</html>
